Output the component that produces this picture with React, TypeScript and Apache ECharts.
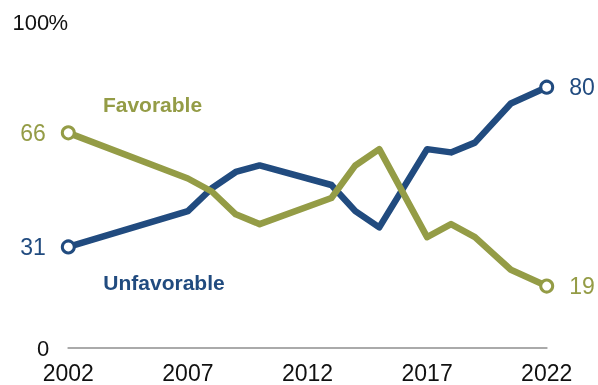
import React, { useEffect, useRef } from "react";
import * as echarts from "echarts";

const years = [2002, 2007, 2008, 2009, 2010, 2013, 2014, 2015, 2017, 2018, 2019, 2020.5, 2022];
const unfavorable = [31, 42, 49, 54, 56, 50, 42, 37, 61, 60, 63, 75, 80];
const favorable = [66, 52, 48, 41, 38, 46, 56, 61, 34, 38, 34, 24, 19];
const xTickLabels = [2002, 2007, 2012, 2017, 2022];
const yTickLabels = [0, 100];

const BLUE = "#214b7f";
const GREEN = "#949c46";
const FONT = "Liberation Sans, Arial, sans-serif";

function buildSeriesData(values: number[], color: string) {
  const last = values.length - 1;
  return values.map((v, i) => {
    const item: any = { value: [years[i], v] };
    if (i === 0 || i === last) {
      item.symbol = "circle";
      item.symbolSize = 12;
      item.label = {
        show: true,
        position: i === 0 ? "left" : "right",
        distance: 15,
        formatter: String(v),
        color,
        fontFamily: FONT,
        fontSize: 23,
      };
    } else {
      item.symbol = "none";
    }
    return item;
  });
}

export default function App() {
  const ref = useRef<HTMLDivElement>(null);
  useEffect(() => {
    if (!ref.current) return;
    const chart = echarts.init(ref.current, undefined, { renderer: "svg" });
    const mkSeries = (name: string, values: number[], color: string) => ({
      name,
      type: "line",
      data: buildSeriesData(values, color),
      lineStyle: { color, width: 6.5, join: "round" },
      itemStyle: { color: "#ffffff", borderColor: color, borderWidth: 3 },
      showSymbol: true,
      emphasis: { disabled: true },
      z: 2,
    });
    chart.setOption({
      animation: false,
      grid: { left: 68.3, right: 51.3, top: 22, bottom: 37, containLabel: false },
      xAxis: {
        type: "value",
        min: 2002,
        max: 2022,
        axisLine: { show: true, lineStyle: { color: "#aaaaaa", width: 2 } },
        axisTick: { show: false },
        splitLine: { show: false },
        axisLabel: {
          customValues: xTickLabels,
          formatter: (v: number) => String(v),
          color: "#111",
          fontFamily: FONT,
          fontSize: 23,
          margin: 13,
        },
      },
      yAxis: {
        type: "value",
        min: 0,
        max: 100,
        interval: 100,
        axisLine: { show: false },
        axisTick: { show: false },
        splitLine: { show: false },
        axisLabel: {
          customValues: yTickLabels,
          margin: 1,
          formatter: (v: number) => (v === 100 ? "{n|100}{p|%}" : "{n|" + v + "}{p|}"),
          rich: {
            n: { color: "#111", fontFamily: FONT, fontSize: 22 },
            p: { color: "#111", fontFamily: FONT, fontSize: 22, width: 18, align: "left" },
          },
        },
      },
      graphic: [
        {
          type: "text",
          x: 152.5,
          y: 104,
          style: {
            text: "Favorable",
            fill: GREEN,
            font: "bold 21px " + FONT,
            align: "center",
            verticalAlign: "middle",
          },
        },
        {
          type: "text",
          x: 164,
          y: 282,
          style: {
            text: "Unfavorable",
            fill: BLUE,
            font: "bold 21px " + FONT,
            align: "center",
            verticalAlign: "middle",
          },
        },
      ],
      series: [mkSeries("Unfavorable", unfavorable, BLUE), mkSeries("Favorable", favorable, GREEN)],
    });
    return () => chart.dispose();
  }, []);
  return <div ref={ref} style={{ position: "fixed", left: 0, top: 0, width: 598, height: 385 }} />;
}
